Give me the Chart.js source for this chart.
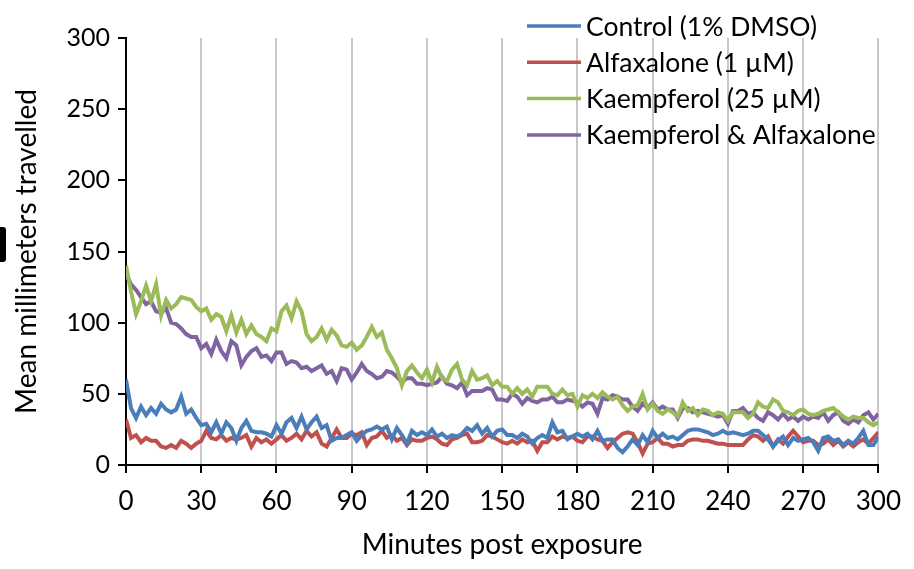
<!DOCTYPE html>
<html>
<head>
<meta charset="utf-8">
<script src="https://cdn.jsdelivr.net/npm/chart.js@4.4.1/dist/chart.umd.min.js"></script>
<style>
  html, body { margin: 0; padding: 0; background: #ffffff; }
  #wrap { width: 914px; height: 569px; position: relative; }
</style>
</head>
<body>
<div id="wrap"><canvas id="c" width="914" height="569"></canvas></div>
<script>
// Time points (minutes post exposure), one reading every 2 minutes
const minutes = [
  0, 2, 4, 6, 8, 10, 12, 14, 16, 18,
  20, 22, 24, 26, 28, 30, 32, 34, 36, 38,
  40, 42, 44, 46, 48, 50, 52, 54, 56, 58,
  60, 62, 64, 66, 68, 70, 72, 74, 76, 78,
  80, 82, 84, 86, 88, 90, 92, 94, 96, 98,
  100, 102, 104, 106, 108, 110, 112, 114, 116, 118,
  120, 122, 124, 126, 128, 130, 132, 134, 136, 138,
  140, 142, 144, 146, 148, 150, 152, 154, 156, 158,
  160, 162, 164, 166, 168, 170, 172, 174, 176, 178,
  180, 182, 184, 186, 188, 190, 192, 194, 196, 198,
  200, 202, 204, 206, 208, 210, 212, 214, 216, 218,
  220, 222, 224, 226, 228, 230, 232, 234, 236, 238,
  240, 242, 244, 246, 248, 250, 252, 254, 256, 258,
  260, 262, 264, 266, 268, 270, 272, 274, 276, 278,
  280, 282, 284, 286, 288, 290, 292, 294, 296, 298,
  300
];

const seriesLabels = [
  'Control (1% DMSO)',
  'Alfaxalone (1 µM)',
  'Kaempferol (25 µM)',
  'Kaempferol & Alfaxalone'
];

const seriesColors = ['#4a7ebb', '#c0504d', '#9bbb59', '#8064a2'];

// Mean millimetres travelled per interval
const control = [
  60, 40, 33, 41, 35, 40, 36, 43, 39, 37,
  39, 48, 36, 39, 33, 28, 29, 23, 30, 22,
  30, 26, 17, 26, 31, 24, 23, 23, 22, 20,
  28, 22, 30, 33, 26, 34, 25, 30, 34, 26,
  28, 17, 19, 19, 21, 23, 17, 21, 24, 25,
  27, 25, 27, 18, 26, 21, 15, 24, 21, 23,
  21, 25, 20, 22, 19, 21, 20, 22, 26, 24,
  28, 22, 26, 20, 24, 25, 21, 21, 19, 22,
  20, 15, 19, 21, 19, 30, 23, 24, 18, 20,
  22, 20, 22, 18, 24, 17, 18, 18, 12, 9,
  13, 18, 14, 21, 16, 24, 19, 22, 19, 20,
  18, 21, 24, 25, 25, 24, 23, 21, 22, 24,
  22, 23, 22, 21, 22, 24, 24, 21, 18, 13,
  17, 20, 14, 19, 17, 18, 19, 16, 10, 19,
  20, 17, 18, 14, 17, 15, 19, 24, 14, 14,
  20
];

const alfaxalone = [
  32, 19, 21, 16, 19, 17, 17, 13, 12, 14,
  12, 17, 15, 12, 15, 17, 24, 19, 18, 21,
  17, 19, 18, 19, 21, 13, 19, 16, 18, 15,
  18, 21, 17, 19, 22, 18, 24, 20, 23, 15,
  13, 19, 25, 19, 19, 22, 21, 23, 14, 19,
  20, 24, 19, 21, 17, 19, 14, 18, 17, 17,
  19, 20, 18, 15, 14, 18, 19, 21, 22, 16,
  16, 17, 21, 20, 18, 16, 15, 17, 15, 18,
  16, 17, 10, 16, 16, 20, 18, 20, 19, 20,
  17, 16, 20, 20, 18, 17, 12, 16, 19, 22,
  23, 22, 16, 8, 15, 16, 19, 15, 15, 13,
  14, 14, 17, 18, 18, 17, 17, 16, 15, 15,
  14, 14, 14, 14, 18, 21, 20, 17, 20, 13,
  18, 15, 20, 24, 20, 16, 17, 17, 14, 15,
  18, 14, 17, 13, 16, 13, 16, 18, 15, 19,
  23
];

const kaempferol = [
  140, 122, 106, 115, 126, 115, 127, 105, 116, 110,
  113, 118, 117, 116, 111, 108, 110, 102, 106, 104,
  94, 105, 93, 102, 92, 98, 92, 90, 87, 96,
  94, 108, 112, 103, 115, 108, 92, 87, 90, 96,
  88, 95, 91, 84, 83, 86, 81, 84, 90, 97,
  90, 93, 81, 75, 68, 56, 66, 70, 65, 61,
  67, 58, 69, 61, 59, 67, 71, 60, 56, 66,
  60, 61, 63, 56, 59, 55, 55, 50, 54, 50,
  53, 48, 55, 55, 55, 50, 49, 53, 49, 50,
  41, 49, 47, 50, 47, 51, 48, 46, 48, 42,
  38, 41, 42, 50, 39, 43, 38, 36, 39, 37,
  34, 44, 38, 40, 35, 39, 38, 35, 37, 36,
  31, 37, 37, 37, 33, 36, 44, 41, 40, 46,
  44, 38, 37, 35, 38, 39, 36, 35, 36, 38,
  39, 40, 37, 34, 32, 34, 33, 33, 30, 28,
  30
];

const combined = [
  134, 127, 123, 118, 113, 115, 108, 107, 110, 100,
  99, 96, 92, 90, 90, 82, 85, 78, 88, 80,
  75, 87, 84, 70, 76, 80, 82, 76, 77, 73,
  79, 79, 71, 73, 72, 68, 69, 66, 68, 70,
  64, 66, 59, 68, 67, 60, 65, 71, 66, 64,
  61, 62, 66, 65, 62, 58, 61, 61, 57, 57,
  56, 57, 58, 62, 57, 56, 54, 58, 49, 52,
  52, 52, 54, 53, 46, 46, 45, 50, 48, 43,
  47, 45, 44, 46, 46, 48, 44, 44, 46, 45,
  44, 41, 44, 43, 36, 47, 46, 49, 48, 46,
  46, 41, 38, 43, 40, 44, 39, 41, 39, 39,
  33, 40, 40, 37, 38, 37, 36, 35, 34, 35,
  29, 38, 38, 40, 36, 37, 33, 31, 37, 35,
  32, 36, 32, 34, 31, 34, 32, 34, 33, 37,
  31, 35, 37, 31, 29, 32, 30, 35, 37, 32,
  36
];

const xTicks = [0, 30, 60, 90, 120, 150, 180, 210, 240, 270, 300];
const yTicks = [0, 50, 100, 150, 200, 250, 300];

const FONT = "Lato, 'Open Sans', sans-serif";

const seriesValues = [control, alfaxalone, kaempferol, combined];
const datasets = seriesValues.map((vals, i) => ({
  label: seriesLabels[i],
  data: minutes.map((m, k) => ({ x: m, y: vals[k] })),
  borderColor: seriesColors[i],
  backgroundColor: seriesColors[i],
  borderWidth: 4,
  pointRadius: 0,
  tension: 0,
  fill: false
}));

// Legend drawn in the upper right corner, over the plot
const cornerLegend = {
  id: 'cornerLegend',
  afterDraw(chart) {
    const ctx = chart.ctx;
    ctx.save();
    ctx.font = '26.5px ' + FONT;
    ctx.textBaseline = 'middle';
    ctx.textAlign = 'left';
    chart.data.datasets.forEach((ds, i) => {
      const y = 26 + i * 36.3;
      ctx.strokeStyle = ds.borderColor;
      ctx.lineWidth = 3.5;
      ctx.beginPath();
      ctx.moveTo(527, y);
      ctx.lineTo(581, y);
      ctx.stroke();
      ctx.fillStyle = '#000000';
      ctx.fillText(ds.label, 586, y + 1);
    });
    // small dark panel marker at the left edge
    ctx.fillStyle = '#000000';
    ctx.beginPath();
    ctx.roundRect(-4, 227, 10, 35, 3);
    ctx.fill();
    ctx.restore();
  }
};

new Chart(document.getElementById('c'), {
  type: 'line',
  data: { datasets },
  plugins: [cornerLegend],
  options: {
    responsive: false,
    animation: false,
    layout: { padding: { top: 38, right: 33, left: 0, bottom: 0 } },
    plugins: {
      legend: { display: false },
      tooltip: { enabled: false }
    },
    scales: {
      x: {
        type: 'linear',
        min: 0,
        max: 300,
        afterBuildTicks(scale) { scale.ticks = xTicks.map(v => ({ value: v })); },
        afterFit(scale) { scale.height = 104; },
        ticks: {
          color: '#000000',
          font: { family: FONT, size: 26 },
          padding: 13,
          maxRotation: 0,
          autoSkip: false
        },
        grid: {
          color: '#c8c8c8',
          lineWidth: 2,
          tickColor: '#000000',
          tickLength: 8,
          drawTicks: true
        },
        border: { color: '#000000', width: 2 },
        title: {
          display: true,
          text: 'Minutes post exposure',
          color: '#000000',
          font: { family: FONT, size: 28 },
          padding: { top: 4, bottom: 7 }
        }
      },
      y: {
        type: 'linear',
        min: 0,
        max: 300,
        afterBuildTicks(scale) { scale.ticks = yTicks.map(v => ({ value: v })); },
        afterFit(scale) { scale.width = 126; },
        ticks: {
          color: '#000000',
          font: { family: FONT, size: 25 },
          padding: 8
        },
        grid: {
          drawOnChartArea: false,
          tickColor: '#000000',
          tickLength: 8,
          lineWidth: 2
        },
        border: { color: '#000000', width: 2 },
        title: {
          display: true,
          text: 'Mean millimeters travelled',
          color: '#000000',
          font: { family: FONT, size: 28 },
          padding: { top: 10, bottom: 0 }
        }
      }
    }
  }
});
</script>
</body>
</html>
